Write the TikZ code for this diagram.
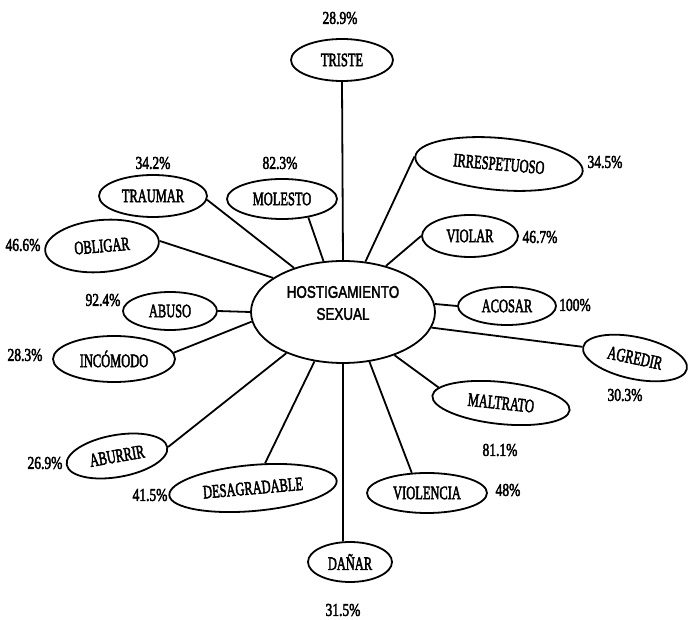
\documentclass[tikz,border=0pt]{standalone}
\usepackage{fontspec}
\usepackage{graphicx}
\setmainfont[FakeBold=3]{Liberation Serif}
\newfontfamily\ctrfont[FakeBold=2.5]{Liberation Sans}
\newcommand{\nar}[1]{\scalebox{0.655}[1]{#1}}
\newcommand{\pnar}[1]{\scalebox{0.75}[1]{#1}}
\newcommand{\cnar}[1]{\scalebox{0.8}[1]{#1}}
\usetikzlibrary{shapes.geometric}
\begin{document}
\begin{tikzpicture}[x=1pt,y=-1pt,
  bub/.style 2 args={draw, ellipse, line width=1.8pt, inner sep=0pt,
    minimum width=#1, minimum height=#2, font=\fontsize{19}{21}\selectfont},
  pct/.style={font=\fontsize{18}{20}\selectfont, inner sep=0pt},
  ctxt/.style={font=\ctrfont\fontsize{16.8}{22}\selectfont, align=center, inner sep=0pt},
  link/.style={line width=1.8pt}]
\useasboundingbox (0,0) rectangle (689,620);
% centre
\node[bub={184pt}{102pt}] (c) at (343,312) {};
\node[ctxt] (ct) at (343,303) {\cnar{HOSTIGAMIENTO}\\\cnar{SEXUAL}};
% satellites
\node[bub={102pt}{42pt}] (triste) at (342,60) {\nar{TRISTE}};
\node[pct] (ptriste) at (340,18) {\pnar{28.9\%}};
\node[bub={108pt}{42pt}] (traumar) at (153,196) {\nar{TRAUMAR}};
\node[pct] (ptraumar) at (153,163) {\pnar{34.2\%}};
\node[bub={110pt}{40pt}] (molesto) at (282,199) {\nar{MOLESTO}};
\node[pct] (pmolesto) at (280,163) {\pnar{82.3\%}};
\node[bub={168pt}{52pt}, rotate=-5] (irresp) at (499,164) {\nar{IRRESPETUOSO}};
\node[pct] (pirresp) at (605,162) {\pnar{34.5\%}};
\node[bub={96pt}{42pt}] (violar) at (470,236) {\nar{VIOLAR}};
\node[pct] (pviolar) at (540,237) {\pnar{46.7\%}};
\node[bub={114pt}{52pt}, rotate=5] (obligar) at (102,246) {\nar{OBLIGAR}};
\node[pct] (pobligar) at (23,245) {\pnar{46.6\%}};
\node[bub={94pt}{38pt}] (abuso) at (170,311) {\nar{ABUSO}};
\node[pct] (pabuso) at (103,300) {\pnar{92.4\%}};
\node[bub={98pt}{38pt}] (acosar) at (507,306) {\nar{ACOSAR}};
\node[pct] (pacosar) at (575,305) {\pnar{100\%}};
\node[bub={106pt}{42pt}, rotate=-12] (agredir) at (635,358) {\nar{AGREDIR}};
\node[pct] (pagredir) at (625,395) {\pnar{30.3\%}};
\node[bub={138pt}{42pt}, rotate=-6] (maltrato) at (501,403) {\nar{MALTRATO}};
\node[pct] (pmaltrato) at (500,450) {\pnar{81.1\%}};
\node[bub={122pt}{46pt}] (incomodo) at (114,359) {\nar{INCÓMODO}};
\node[pct] (pincomodo) at (25,355) {\pnar{28.3\%}};
\node[bub={102pt}{42pt}, rotate=10] (aburrir) at (117,456) {\nar{ABURRIR}};
\node[pct] (paburrir) at (45,463) {\pnar{26.9\%}};
\node[bub={168pt}{46pt}, rotate=5] (desagr) at (253,488) {\nar{DESAGRADABLE}};
\node[pct] (pdesagr) at (150,495) {\pnar{41.5\%}};
\node[bub={120pt}{40pt}] (violencia) at (427,493) {\nar{VIOLENCIA}};
\node[pct] (pviolencia) at (508,490) {\pnar{48\%}};
\node[bub={84pt}{40pt}] (danar) at (350,562) {\nar{DAÑAR}};
\node[pct] (pdanar) at (343,610) {\pnar{31.5\%}};
% connectors
\draw[link] (triste.south) -- (c.north);
\draw[link] (traumar.-4) -- (c.138);
\draw[link] (molesto.-35) -- (c.111);
\draw[link] (irresp.west) -- (c.66);
\draw[link] (violar.west) -- (c.47);
\draw[link] (obligar.east) -- (c.154);
\draw[link] (abuso.east) -- (c.west);
\draw[link] (acosar.west) -- (c.5);
\draw[link] (agredir.west) -- (c.-10);
\draw[link] (maltrato.172) -- (c.-40);
\draw[link] (incomodo.6) -- (c.186);
\draw[link] (aburrir.east) -- (c.216);
\draw[link] (desagr.59) -- (c.240);
\draw[link] (danar.109) -- (c.south);
\draw[link] (violencia.127) -- (c.-62);
\end{tikzpicture}
\end{document}
